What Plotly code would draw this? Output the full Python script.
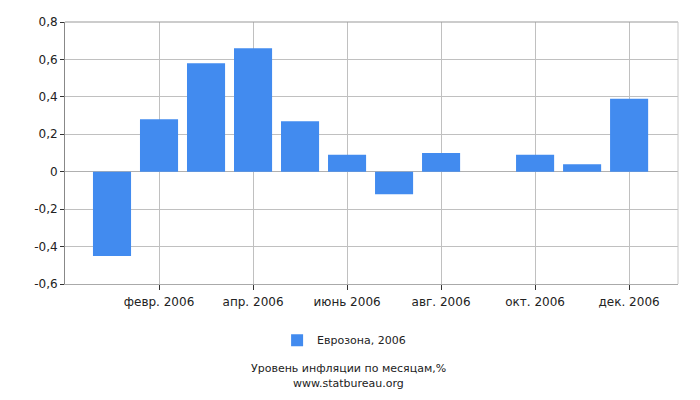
import plotly.graph_objects as go

months = ["янв. 2006", "февр. 2006", "март 2006", "апр. 2006", "май 2006", "июнь 2006",
          "июль 2006", "авг. 2006", "сент. 2006", "окт. 2006", "нояб. 2006", "дек. 2006"]
values = [-0.45, 0.28, 0.58, 0.66, 0.27, 0.09, -0.12, 0.10, 0.0, 0.09, 0.04, 0.39]
shown_ticks = ["февр. 2006", "апр. 2006", "июнь 2006", "авг. 2006", "окт. 2006", "дек. 2006"]
y_ticks = [0.8, 0.6, 0.4, 0.2, 0, -0.2, -0.4, -0.6]
y_labels = ["0,8", "0,6", "0,4", "0,2", "0", "-0,2", "-0,4", "-0,6"]
series_name = "Еврозона, 2006"
title_lines = ["Уровень инфляции по месяцам,%", "www.statbureau.org"]

FONT = "DejaVu Sans, Verdana, sans-serif"

fig = go.Figure()
fig.add_trace(go.Bar(x=months, y=values, name=series_name,
                     marker=dict(color="#428BEF", line=dict(width=0))))

fig.update_layout(
    width=700, height=400,
    margin=dict(l=65, r=22, t=22, b=116),
    paper_bgcolor="white", plot_bgcolor="white",
    font=dict(family=FONT, size=12, color="#222"),
    bargap=0.19,
    showlegend=True,
    legend=dict(orientation="h", x=0.346, y=-0.159, xanchor="left", yanchor="top",
                font=dict(size=11, family=FONT), itemwidth=30),
    xaxis=dict(type="category", range=[-1, 12.04], tickmode="array",
               tickvals=shown_ticks, ticktext=shown_ticks,
               showgrid=True, gridcolor="#c0c0c0", gridwidth=1,
               ticks="outside", ticklen=5, tickcolor="#333",
               showline=True, linecolor="#aaa", mirror=False,
               ticklabelstandoff=2,
               tickfont=dict(size=12, family=FONT)),
    yaxis=dict(range=[-0.6, 0.8], tickmode="array", tickvals=y_ticks, ticktext=y_labels,
               showgrid=True, gridcolor="#c0c0c0", gridwidth=1,
               zeroline=True, zerolinecolor="#b0b0b0", zerolinewidth=1,
               ticks="outside", ticklen=4, tickcolor="#333",
               showline=True, linecolor="#888",
               tickfont=dict(size=12, family=FONT)),
    shapes=[
        dict(type="line", xref="paper", yref="paper", x0=0, x1=1, y0=1, y1=1,
             line=dict(color="#999", width=1)),
        dict(type="line", xref="paper", yref="paper", x0=1, x1=1, y0=0, y1=1,
             line=dict(color="#c8c8c8", width=1)),
    ],
    annotations=[
        dict(text=title_lines[0], xref="paper", yref="paper",
             x=0.463, y=-0.324, xanchor="center", yanchor="middle",
             showarrow=False, borderpad=0, font=dict(size=11, family=FONT, color="#222")),
        dict(text=title_lines[1], xref="paper", yref="paper",
             x=0.463, y=-0.38, xanchor="center", yanchor="middle",
             showarrow=False, borderpad=0, font=dict(size=11, family=FONT, color="#222")),
    ],
)

fig.write_html("out.html", config={"displayModeBar": False},
               post_script="document.body.style.margin='0';document.body.style.padding='0';")
